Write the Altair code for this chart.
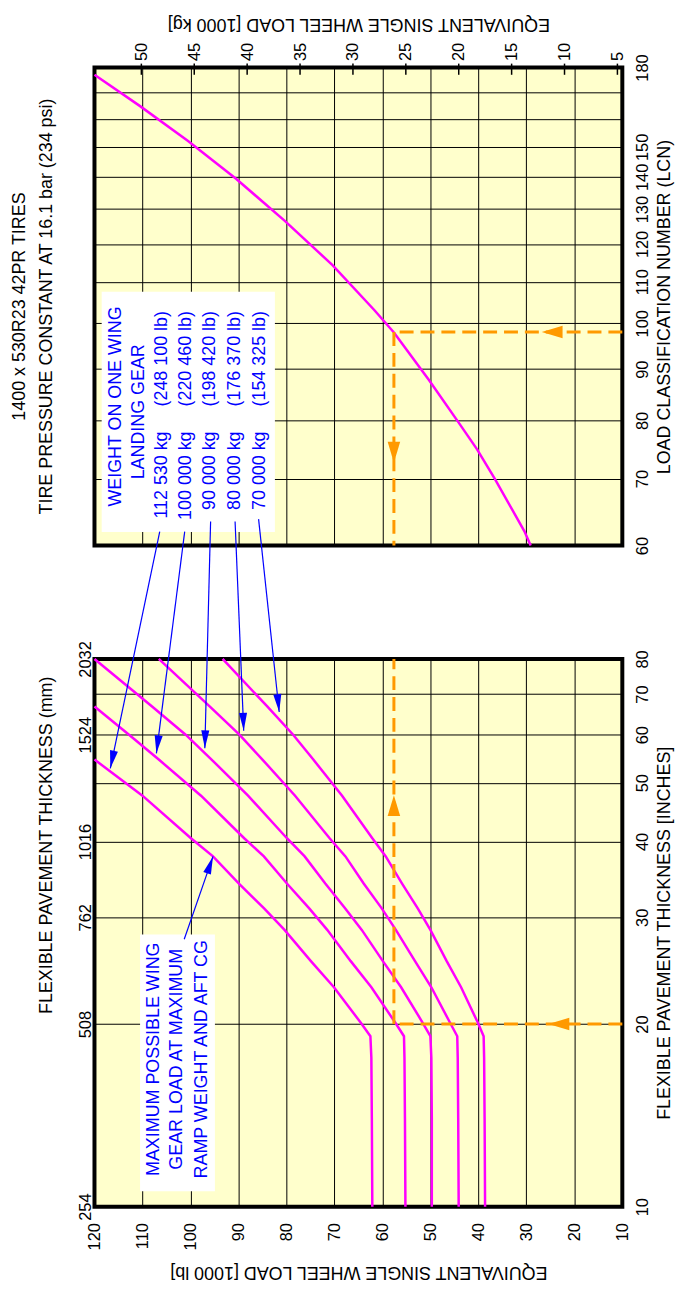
import altair as alt
import pandas as pd

FONT = "Liberation Sans"
PINK = "#FF00FF"
BLUE = "#0000FF"
ORANGE = "#FF9900"
YELLOW = "#FFFFCC"

KG_PER_KLB = 0.45359237   # 1000 lb -> 1000 kg
W, H_UP, H_LO, GAP = 531, 481, 551, 114

# ---------------- data ----------------
series_names = ["112 530 kg", "100 000 kg", "90 000 kg", "80 000 kg", "70 000 kg"]

thk_112530 = [10, 14, 17.6, 19.1, 20.1, 23, 25.4, 28.6, 31, 34.1, 37.8, 40.5, 47.6, 54.6]
eswl_112530 = [62.1, 62.2, 62.3, 62.5, 64.5, 70.1, 74.9, 80.4, 84.6, 89.9, 95.3, 99.9, 110.0, 120.0]

thk_100000 = [10, 14, 17.6, 19.1, 20.1, 23, 25.4, 28.6, 31, 34.1, 37.8, 40.5, 47.6, 54.6, 60, 66.8]
eswl_100000 = [55.2, 55.3, 55.4, 55.5, 57.3, 62.3, 66.6, 71.5, 75.2, 79.9, 84.7, 88.8, 97.8, 106.6, 112.8, 120.0]

thk_90000 = [10, 14, 17.6, 19.1, 20.1, 23, 25.4, 28.6, 31, 34.1, 37.8, 40.5, 47.6, 54.6, 60, 66.8, 80]
eswl_90000 = [49.7, 49.7, 49.8, 50.0, 51.6, 56.1, 59.9, 64.3, 67.7, 71.9, 76.2, 79.9, 88.0, 95.6, 101.0, 108.0, 120.0]

thk_80000 = [10, 14, 17.6, 19.1, 20.1, 23, 25.4, 28.6, 31, 34.1, 37.8, 40.5, 47.6, 54.6, 60, 66.8, 80]
eswl_80000 = [44.1, 44.2, 44.3, 44.4, 45.9, 49.8, 53.2, 57.2, 60.1, 63.9, 67.7, 71.0, 78.2, 85.0, 89.8, 96.0, 106.6]

thk_70000 = [10, 14, 17.6, 19.1, 20.1, 23, 25.4, 28.6, 31, 34.1, 37.8, 40.5, 47.6, 54.6, 60, 66.8, 80]
eswl_70000 = [38.6, 38.7, 38.8, 38.9, 40.1, 43.6, 46.6, 50.0, 52.6, 55.9, 59.3, 62.1, 68.4, 74.4, 78.6, 84.0, 93.3]

lcn_eswl = [120.0, 110.5, 100.5, 90.5, 80.4, 70.4, 61.7, 57.6, 50.3, 44.1, 40.3, 36.6, 30.4, 29.1]
lcn_value = [177.0, 164.7, 152.0, 139.4, 126.6, 114.3, 103.1, 97.9, 87.8, 79.6, 74.9, 70.0, 62.0, 60.0]

# worked example (orange)
ex_lcn, ex_eswl, ex_thk = 98, 57.6, 20

# axis ticks
klb_ticks = list(range(10, 121, 10))
t_ticks = list(range(5, 51, 5))
in_ticks = [10, 20, 30, 40, 50, 60, 70, 80]
mm_ticks = [254, 508, 762, 1016, 1524, 2032]
lcn_ticks = list(range(60, 181, 10))

# annotation texts
gear_title = ["WEIGHT ON ONE WING", "LANDING GEAR"]
gear_kg = ["112 530 kg", "100 000 kg", "90 000 kg", "80 000 kg", "70 000 kg"]
gear_lb = ["(248 100 lb)", "(220 460 lb)", "(198 420 lb)", "(176 370 lb)", "(154 325 lb)"]
max_note = ["MAXIMUM POSSIBLE WING", "GEAR LOAD AT MAXIMUM", "RAMP WEIGHT AND AFT CG"]
title_lines = ["1400 x 530R23 42PR TIRES", "TIRE PRESSURE CONSTANT AT 16.1 bar (234 psi)"]

# ---------------- tables ----------------
rows = []
for name, th, es in zip(series_names,
                        [thk_112530, thk_100000, thk_90000, thk_80000, thk_70000],
                        [eswl_112530, eswl_100000, eswl_90000, eswl_80000, eswl_70000]):
    for t, e in zip(th, es):
        rows.append({"series": name, "thk": t, "eswl": e})
curves = pd.DataFrame(rows)
lcn_df = pd.DataFrame({"eswl": lcn_eswl, "lcn": lcn_value})

# annotation placement (data coordinates)
up_box = pd.DataFrame({"x1": [118.5], "x2": [82.4], "y1": [107.5], "y2": [61.9]})
up_head = pd.DataFrame({"x": [115.5, 110.7], "y": [82.6, 81.6], "txt": gear_title})
up_kg = pd.DataFrame({"x": [106.0, 101.0, 95.9, 90.7, 85.6], "y": [78.0] * 5, "txt": gear_kg})
up_lb = pd.DataFrame({"x": [106.0, 101.0, 95.9, 90.7, 85.6], "y": [82.6] * 5, "txt": gear_lb})

lo_box = pd.DataFrame({"x1": [110.5], "x2": [94.9], "y1": [28.1], "y2": [10.6]})
lo_note = pd.DataFrame({"x": [107.6, 102.8, 97.6], "y": [17.5] * 3, "txt": max_note})

arrows = pd.DataFrame({
    "x0": [106.4, 101.2, 95.8, 90.7, 85.8, 101.3],
    "y0": [129.7, 129.7, 134.8, 134.8, 136.0, 27.6],
    "x1": [116.7, 107.1, 97.0, 88.9, 81.5, 95.3],
    "y1": [52.8, 55.9, 57.0, 60.9, 65.4, 37.8],
    "ang": [191.8, 187.3, 181.5, 177.7, 173.9, 19.3],
})

up_orange = pd.DataFrame({"x0": [10, ex_eswl], "x1": [ex_eswl, ex_eswl],
                          "y0": [ex_lcn, ex_lcn], "y1": [ex_lcn, 60]})
up_orange_heads = pd.DataFrame({"x": [26.8, ex_eswl], "y": [ex_lcn, 72.6], "ang": [270, 180]})
lo_orange = pd.DataFrame({"x0": [10, ex_eswl], "x1": [ex_eswl, ex_eswl],
                          "y0": [ex_thk, ex_thk], "y1": [ex_thk, 80]})
lo_orange_heads = pd.DataFrame({"x": [25.4, ex_eswl], "y": [ex_thk, 47.7], "ang": [270, 0]})

# top-axis tick marks (they cross the frame: from just above LCN 180 to just below it)
kg_tick_df = pd.DataFrame({"t": t_ticks, "y0": [181.6] * len(t_ticks), "y1": [177.0] * len(t_ticks)})

BLUE_HEAD = "M0,0L-0.45,2L0.45,2Z"
ORANGE_HEAD = "M0,0L-0.6,2L0.6,2Z"

# ---------------- scales / axes ----------------
klb_scale = alt.Scale(domain=[10, 120], reverse=True, nice=False, zero=False)
t_scale = alt.Scale(domain=[10 * KG_PER_KLB, 120 * KG_PER_KLB], reverse=True, nice=False, zero=False)
lcn_scale = alt.Scale(type="log", domain=[60, 180], nice=False)
thk_scale = alt.Scale(type="log", domain=[10, 80], nice=False)
mm_scale = alt.Scale(type="log", domain=[254, 2032], nice=False)

common = dict(labelFont=FONT, titleFont=FONT, labelFontSize=16.5, titleFontSize=18,
              titleFontWeight="normal", labelColor="black", titleColor="black",
              gridColor="black", gridWidth=1, gridOpacity=1, domain=False, ticks=False,
              labelFlush=False, labelOverlap=False)

klb_grid_axis = alt.Axis(orient="bottom", values=klb_ticks, grid=True, labels=False,
                         title=None, **common)
lcn_axis = alt.Axis(orient="right", values=lcn_ticks, format="d", grid=True,
                    labelExpr="(datum.value == 160 || datum.value == 170) ? '' : datum.label",
                    labelAngle=270, labelAlign="center", labelBaseline="top", labelPadding=12,
                    title="LOAD CLASSIFICATION NUMBER (LCN)", titleAngle=270, titleBaseline="top",
                    titlePadding=5, **common)
t_axis = alt.Axis(orient="top", values=t_ticks, format="d", grid=False,
                  labelAngle=270, labelAlign="left", labelBaseline="middle", labelPadding=7,
                  title="EQUIVALENT SINGLE WHEEL LOAD [1000 kg]", titleAngle=180, titleBaseline="top",
                  titlePadding=10, **common)
klb_axis = alt.Axis(orient="bottom", values=klb_ticks, format="d", grid=True,
                    labelAngle=270, labelAlign="right", labelBaseline="middle", labelPadding=16,
                    title="EQUIVALENT SINGLE WHEEL LOAD [1000 lb]", titleAngle=180, titleBaseline="bottom",
                    titlePadding=13, **common)
in_axis = alt.Axis(orient="right", values=in_ticks, format="d", grid=True,
                   labelAngle=270, labelAlign="center", labelBaseline="top", labelPadding=12,
                   title="FLEXIBLE PAVEMENT THICKNESS [INCHES]", titleAngle=270, titleBaseline="top",
                   titlePadding=5, **common)
mm_axis = alt.Axis(orient="left", values=mm_ticks, format="d", grid=False,
                   labelAngle=270, labelAlign="center", labelBaseline="bottom", labelPadding=1,
                   title="FLEXIBLE PAVEMENT THICKNESS (mm)", titleAngle=270, titleBaseline="bottom",
                   titlePadding=22, titleY=187, **common)


# upper panel: x independent (klb grid + kg axis), y shared (LCN axis everywhere)
def UX(f, axis=None, scale=klb_scale):
    return alt.X(f, type="quantitative", scale=scale, axis=axis)


def UY(f):
    return alt.Y(f, type="quantitative", scale=lcn_scale, axis=lcn_axis)


# lower panel: x shared (klb axis everywhere), y independent (inches + mm)
def LX(f):
    return alt.X(f, type="quantitative", scale=klb_scale, axis=klb_axis)


def LY(f, axis=None, scale=thk_scale):
    return alt.Y(f, type="quantitative", scale=scale, axis=axis)


def text_layer(df, xfn, yfn, align):
    return alt.Chart(df).mark_text(font=FONT, fontSize=18, color=BLUE, angle=270,
                                   align=align, baseline="middle").encode(
        x=xfn("x"), y=yfn("y"), text="txt:N")


# ---------------- upper panel: LCN ----------------
u_curve = alt.Chart(lcn_df).mark_line(color=PINK, strokeWidth=2.5).encode(
    x=UX("eswl", klb_grid_axis), y=UY("lcn"))
u_box = alt.Chart(up_box).mark_rect(fill="white").encode(
    x=UX("x1"), x2="x2:Q", y=UY("y1"), y2="y2:Q")
u_orange = alt.Chart(up_orange).mark_rule(color=ORANGE, strokeWidth=3, strokeDash=[14, 7]).encode(
    x=UX("x0"), x2="x1:Q", y=UY("y0"), y2="y1:Q")
u_orange_h = alt.Chart(up_orange_heads).mark_point(
    shape=ORANGE_HEAD, filled=True, color=ORANGE, size=441, opacity=1, strokeWidth=0).encode(
    x=UX("x"), y=UY("y"), angle=alt.Angle("ang:Q", scale=None))

t_df = pd.DataFrame({"t": t_ticks, "lcn": [100] * len(t_ticks)})
t_lab = alt.Chart(t_df).mark_point(opacity=0).encode(x=UX("t", t_axis, t_scale), y=UY("lcn"))
t_tck = alt.Chart(kg_tick_df).mark_rule(color="black", strokeWidth=1.5).encode(
    x=UX("t", None, t_scale), y=UY("y0"), y2="y1:Q")

upper = alt.layer(u_curve, u_box,
                  text_layer(up_head, UX, UY, "center"),
                  text_layer(up_kg, UX, UY, "right"),
                  text_layer(up_lb, UX, UY, "left"),
                  u_orange, u_orange_h, t_lab, t_tck).resolve_scale(x="independent").properties(
    width=W, height=H_UP,
    title=alt.TitleParams(text=title_lines, orient="left", anchor="middle", angle=270,
                          baseline="bottom", font=FONT, fontSize=18, fontWeight="normal",
                          color="black", lineHeight=27, offset=16))

# ---------------- lower panel: ESWL vs thickness ----------------
l_curves = alt.Chart(curves).mark_line(color=PINK, strokeWidth=2.5).encode(
    x=LX("eswl"), y=LY("thk", in_axis), detail="series:N", order="thk:Q")
l_box = alt.Chart(lo_box).mark_rect(fill="white").encode(
    x=LX("x1"), x2="x2:Q", y=LY("y1"), y2="y2:Q")
l_arrows = alt.Chart(arrows).mark_rule(color=BLUE, strokeWidth=1.2).encode(
    x=LX("x0"), x2="x1:Q", y=LY("y0"), y2="y1:Q")
l_heads = alt.Chart(arrows).mark_point(
    shape=BLUE_HEAD, filled=True, color=BLUE, size=324, opacity=1, strokeWidth=0).encode(
    x=LX("x1"), y=LY("y1"), angle=alt.Angle("ang:Q", scale=None))
l_orange = alt.Chart(lo_orange).mark_rule(color=ORANGE, strokeWidth=3, strokeDash=[14, 7]).encode(
    x=LX("x0"), x2="x1:Q", y=LY("y0"), y2="y1:Q")
l_orange_h = alt.Chart(lo_orange_heads).mark_point(
    shape=ORANGE_HEAD, filled=True, color=ORANGE, size=441, opacity=1, strokeWidth=0).encode(
    x=LX("x"), y=LY("y"), angle=alt.Angle("ang:Q", scale=None))

mm_df = pd.DataFrame({"mm": mm_ticks, "eswl": [50] * len(mm_ticks)})
mm_layer = alt.Chart(mm_df).mark_point(opacity=0).encode(
    x=LX("eswl"), y=LY("mm", mm_axis, mm_scale))

lower = alt.layer(l_curves, l_box, text_layer(lo_note, LX, LY, "center"),
                  l_arrows, l_heads, l_orange, l_orange_h, mm_layer).resolve_scale(
    y="independent").properties(width=W, height=H_LO)

chart = alt.vconcat(upper, lower, spacing=GAP, bounds="flush").configure_view(
    fill=YELLOW, stroke="black", strokeWidth=4).properties(
    padding={"left": 0, "top": 0, "right": 0, "bottom": 0}, background="white")

chart.save("out.html", embed_options={"renderer": "svg", "actions": False})
